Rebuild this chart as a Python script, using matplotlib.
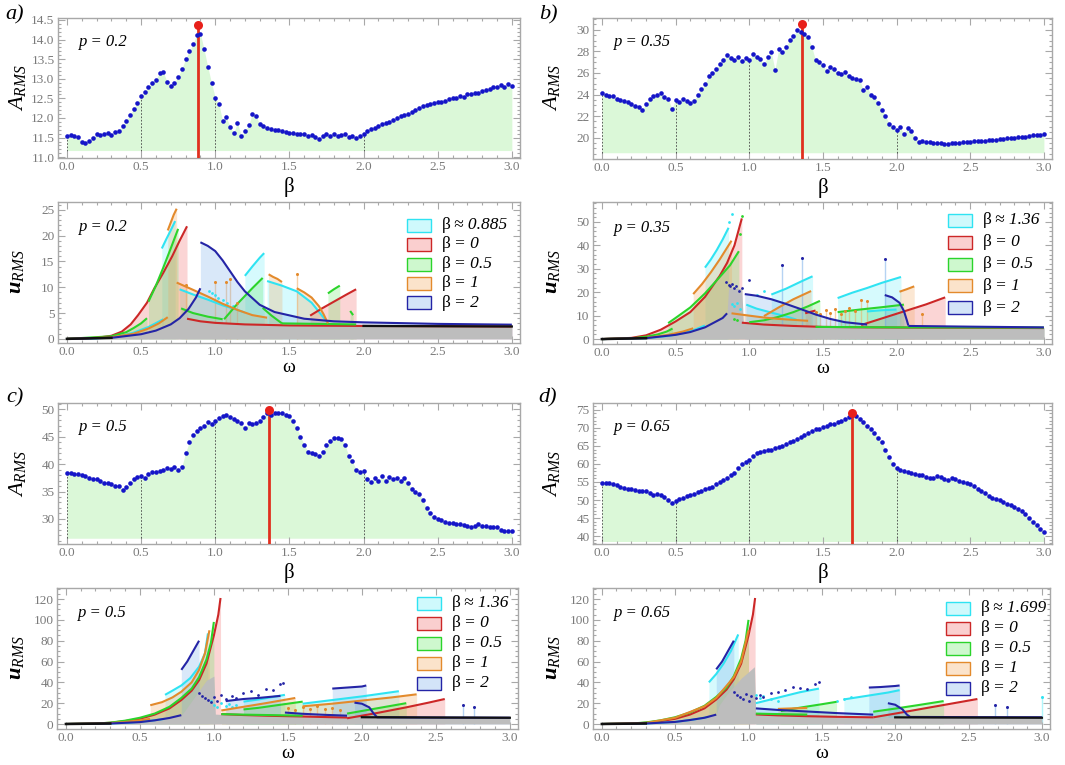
import numpy as np
import matplotlib
matplotlib.use("Agg")
import matplotlib.pyplot as plt
from matplotlib.patches import Rectangle
from matplotlib.ticker import MultipleLocator, FormatStrFormatter

plt.rcParams['font.family'] = ['Liberation Serif', 'DejaVu Serif']
plt.rcParams['mathtext.fontset'] = 'custom'
plt.rcParams['mathtext.rm'] = 'Liberation Serif'
plt.rcParams['mathtext.it'] = 'Liberation Serif:italic'
plt.rcParams['mathtext.bf'] = 'Liberation Serif:bold'
plt.rcParams['mathtext.bfit'] = 'Liberation Serif:italic:bold'

# ---------------------------------------------------------------- data
beta = np.round(np.arange(0, 3.0001, 0.025), 3)

A_p020 = [11.55, 11.56, 11.53, 11.52, 11.38, 11.35, 11.42, 11.50, 11.58, 11.56,
          11.60, 11.63, 11.57, 11.64, 11.68, 11.80, 11.93, 12.08, 12.22, 12.38,
          12.55, 12.66, 12.78, 12.90, 12.98, 13.15, 13.18, 12.92, 12.82, 12.90,
          13.05, 13.25, 13.50, 13.70, 13.88, 14.12, 14.15, 13.75, 13.30, 12.90,
          12.52, 12.35, 11.92, 12.02, 11.78, 11.62, 11.88, 11.55, 11.66, 11.82,
          12.10, 12.05, 11.85, 11.80, 11.74, 11.72, 11.70, 11.70, 11.67, 11.65,
          11.62, 11.63, 11.60, 11.58, 11.58, 11.55, 11.56, 11.52, 11.47, 11.55,
          11.58, 11.54, 11.60, 11.55, 11.56, 11.58, 11.52, 11.55, 11.50, 11.55,
          11.58, 11.66, 11.72, 11.75, 11.80, 11.84, 11.88, 11.90, 11.95, 12.00,
          12.04, 12.08, 12.10, 12.15, 12.20, 12.25, 12.30, 12.32, 12.35, 12.38,
          12.40, 12.42, 12.44, 12.48, 12.50, 12.50, 12.55, 12.54, 12.60, 12.60,
          12.64, 12.65, 12.68, 12.72, 12.75, 12.78, 12.80, 12.85, 12.80, 12.86,
          12.82]

A_p035 = [24.10, 24.00, 23.90, 23.85, 23.55, 23.45, 23.40, 23.30, 23.10, 22.90,
          22.80, 22.60, 23.10, 23.60, 23.90, 24.00, 24.15, 23.80, 23.60, 22.70,
          23.50, 23.30, 23.60, 23.40, 23.20, 23.40, 23.95, 24.50, 25.00, 25.70,
          26.00, 26.40, 26.80, 27.20, 27.70, 27.40, 27.20, 27.45, 27.10, 27.40,
          27.20, 27.75, 27.50, 27.30, 26.80, 27.50, 27.90, 26.30, 28.20, 27.90,
          28.40, 29.10, 29.40, 30.00, 29.80, 29.60, 29.30, 28.40, 27.20, 27.00,
          26.70, 26.20, 26.60, 26.40, 26.00, 25.90, 26.10, 25.70, 25.50, 25.40,
          25.35, 24.40, 24.70, 24.00, 23.80, 23.20, 22.60, 22.00, 21.30, 21.00,
          20.70, 21.00, 20.30, 20.90, 20.60, 20.00, 19.60, 19.70, 19.60, 19.60,
          19.55, 19.55, 19.50, 19.45, 19.45, 19.50, 19.55, 19.55, 19.60, 19.60,
          19.60, 19.65, 19.65, 19.70, 19.70, 19.75, 19.80, 19.80, 19.85, 19.90,
          19.95, 20.00, 20.00, 20.05, 20.10, 20.10, 20.15, 20.20, 20.25, 20.25,
          20.30]

A_p050 = [38.4, 38.3, 38.2, 38.1, 38.0, 37.8, 37.5, 37.3, 37.2, 37.0,
          36.6, 36.5, 36.3, 36.0, 36.0, 35.3, 35.8, 36.5, 37.2, 37.6,
          37.8, 37.5, 38.2, 38.5, 38.6, 38.8, 39.0, 39.2, 39.1, 39.5,
          38.9, 39.5, 42.0, 44.0, 45.2, 46.0, 46.5, 47.0, 47.6, 47.3,
          47.8, 48.3, 48.7, 48.9, 48.5, 48.2, 47.8, 47.5, 46.5, 47.4,
          47.2, 47.5, 47.8, 48.5, 49.2, 49.0, 49.2, 49.2, 49.3, 49.0,
          48.8, 47.8, 46.5, 45.0, 43.5, 42.2, 42.0, 41.8, 41.5, 42.2,
          43.5, 44.2, 44.7, 44.8, 44.5, 43.5, 41.5, 40.5, 39.0, 38.5,
          38.7, 37.3, 36.8, 37.5, 37.0, 37.8, 37.0, 37.6, 37.3, 37.5,
          37.0, 37.5, 36.5, 35.5, 35.0, 34.5, 33.5, 32.0, 31.0, 30.3,
          30.0, 29.8, 29.5, 29.3, 29.2, 29.0, 29.0, 28.9, 28.8, 28.6,
          28.8, 29.0, 28.7, 28.8, 28.6, 28.5, 28.5, 28.0, 27.8, 27.8,
          27.8]

A_p065 = [54.8, 54.7, 54.6, 54.4, 54.2, 53.6, 53.3, 53.0, 53.1, 52.8,
          52.5, 52.6, 52.4, 52.0, 51.5, 51.6, 51.4, 50.8, 50.0, 49.2,
          49.6, 50.2, 50.6, 51.0, 51.5, 51.8, 52.2, 52.6, 53.0, 53.3,
          53.6, 54.3, 55.0, 55.5, 56.0, 56.8, 57.6, 58.8, 60.0, 60.5,
          61.0, 62.2, 63.0, 63.2, 63.5, 63.8, 64.0, 64.3, 64.6, 65.0,
          65.5, 66.0, 66.5, 67.0, 67.6, 68.0, 68.5, 69.0, 69.6, 69.8,
          70.2, 70.5, 71.0, 71.2, 71.5, 72.0, 72.5, 73.0, 73.6, 73.2,
          72.6, 71.6, 70.6, 69.6, 68.5, 67.2, 66.0, 64.0, 62.0, 60.0,
          59.0, 58.4, 58.0, 57.8, 57.5, 57.2, 57.0, 56.8, 56.5, 56.0,
          56.2, 56.6, 56.4, 55.8, 55.5, 56.0, 55.8, 55.2, 55.0, 54.8,
          54.5, 53.8, 53.0, 52.6, 52.0, 51.2, 50.5, 50.2, 50.0, 49.4,
          49.0, 48.5, 48.0, 47.5, 47.0, 46.0, 45.0, 44.0, 43.0, 42.0,
          41.2]

p_values = ['0.2', '0.35', '0.5', '0.65']
beta_opt = [0.885, 1.36, 1.36, 1.699]
A_opt = [14.36, 30.5, 49.8, 74.2]
beta_opt_labels = ['0.885', '1.36', '1.36', '1.699']
legend_values = ['0', '0.5', '1', '2']

# u_RMS(omega) branches for each beta, p = 0.2
a_cyan = [([0, 0.2, 0.35, 0.45, 0.55, 0.65], [0, 0.1, 0.5, 1.2, 2.3, 3.8]),
          ([0.64, 0.67, 0.70, 0.73], [17.5, 19.3, 21.0, 22.8]),
          ([0.76, 0.85, 0.95, 1.05, 1.15, 1.20], [9.6, 8.6, 7.6, 6.5, 5.6, 5.1]),
          ([1.20, 1.25, 1.30, 1.33], [12.2, 14.0, 15.7, 16.6]),
          ([1.35, 1.45, 1.55, 1.65, 1.72, 1.76], [11.2, 10.3, 9.2, 7.0, 4.5, 3.1])]
a_cyan_dots = ([0.96, 0.98, 1.00, 1.02, 1.05, 1.08, 1.12], [9.2, 8.8, 8.5, 8.0, 7.5, 7.0, 6.3])
a_red = [([0, 0.2, 0.3, 0.37, 0.43, 0.48, 0.54, 0.59, 0.65, 0.71, 0.76, 0.81],
          [0, 0.2, 0.6, 1.4, 2.8, 4.6, 7.0, 9.8, 12.8, 16.0, 19.0, 21.8]),
         ([0.81, 0.9, 1.0, 1.2, 1.5, 2.0, 2.5, 3.0], [3.9, 3.4, 3.1, 2.8, 2.6, 2.5, 2.45, 2.4]),
         ([1.64, 1.72, 1.80, 1.88, 1.95], [4.5, 5.9, 7.2, 8.5, 9.6])]
a_green = [([0, 0.3, 0.4, 0.45, 0.5, 0.54], [0, 0.5, 1.3, 2.1, 3.0, 4.0]),
           ([0.55, 0.60, 0.65, 0.70, 0.75], [7.2, 10.3, 13.8, 17.5, 21.3]),
           ([0.77, 0.85, 0.95, 1.05], [5.9, 5.0, 4.3, 3.8]),
           ([1.06, 1.15, 1.25, 1.32], [3.8, 6.8, 9.8, 11.8]),
           ([1.32, 1.38, 1.45], [6.0, 4.5, 3.0]),
           ([1.45, 1.70, 1.95], [3.0, 2.9, 2.8]),
           ([1.76, 1.80, 1.84], [8.8, 9.6, 10.3]),
           ([1.91, 1.93], [5.4, 4.6])]
a_orange = [([0, 0.3, 0.45, 0.55, 0.62, 0.68], [0, 0.3, 1.0, 2.0, 3.0, 4.2]),
            ([0.68, 0.70, 0.72, 0.74], [21.0, 22.5, 24.0, 25.2]),
            ([0.74, 0.85, 0.95, 1.05, 1.15, 1.25, 1.35], [10.9, 9.5, 8.2, 6.8, 5.6, 4.6, 4.1]),
            ([1.36, 1.39, 1.42, 1.45], [12.5, 12.0, 11.6, 11.0]),
            ([1.55, 1.60, 1.65, 1.70, 1.73, 1.76], [9.8, 9.0, 8.0, 6.3, 4.8, 3.0])]
a_orange_spikes = ([0.80, 1.00, 1.07, 1.10, 1.15, 1.55], [10.5, 11.0, 11.0, 11.5, 7.0, 12.5])
a_blue = [([0, 0.3, 0.5, 0.6, 0.7, 0.76, 0.82, 0.87, 0.9], [0, 0.2, 0.9, 1.6, 2.8, 4.0, 5.8, 8.0, 9.8]),
          ([0.9, 0.95, 1.0, 1.05, 1.1, 1.15, 1.2, 1.3, 1.4, 1.6, 1.8, 2.0, 2.5, 3.0],
           [18.7, 18.0, 17.0, 15.2, 13.1, 11.0, 9.2, 6.6, 5.2, 3.9, 3.4, 3.2, 2.9, 2.75])]
a_floor = ([0, 0.3, 0.5, 0.6, 0.7, 0.76, 0.81, 0.82, 0.9, 1.0, 1.2, 1.5, 2.0, 3.0],
           [0, 0.2, 0.9, 1.6, 2.8, 4.0, 5.2, 3.9, 3.4, 3.1, 2.8, 2.6, 2.5, 2.4])

# p = 0.35
b_cyan = [([0, 0.3, 0.45, 0.55, 0.63, 0.70], [0, 0.4, 1.3, 2.5, 4.0, 5.8]),
          ([0.70, 0.74, 0.78, 0.82, 0.86], [30.5, 34.0, 38.0, 42.5, 47.5]),
          ([0.98, 1.05, 1.15, 1.25, 1.32], [14.7, 13.0, 11.3, 9.7, 8.3]),
          ([1.15, 1.25, 1.35, 1.43], [19.0, 21.5, 24.5, 26.8]),
          ([1.60, 1.70, 1.80, 1.90, 2.03], [17.5, 19.8, 21.8, 24.0, 26.5]),
          ([1.80, 1.90, 2.00], [11.8, 12.3, 12.6])]
b_cyan_dots = ([0.86, 0.88, 0.88, 0.90, 0.92, 0.94, 1.05, 1.10], [50.0, 53.5, 15.0, 14.0, 15.5, 13.0, 19.0, 20.5])
b_red = [([0, 0.2, 0.3, 0.4, 0.5, 0.6, 0.7, 0.8, 0.85, 0.9, 0.95],
          [0, 0.5, 1.6, 4.0, 7.5, 11.5, 18.0, 27.0, 32.5, 40.0, 51.5]),
         ([0.95, 1.1, 1.3, 1.5, 1.8, 2.1, 2.5, 3.0], [7.0, 6.2, 5.6, 5.2, 5.0, 4.9, 4.8, 4.7]),
         ([1.38, 1.45], [11.0, 12.2]),
         ([1.76, 1.90, 2.05, 2.20, 2.33], [6.0, 8.8, 11.8, 14.8, 17.8])]
b_green = [([0, 0.2, 0.3, 0.38, 0.44, 0.48], [0, 0.3, 1.0, 2.0, 3.2, 4.5]),
           ([0.45, 0.5, 0.6, 0.7, 0.8, 0.87, 0.93], [6.8, 9.0, 13.5, 19.5, 26.5, 31.5, 37.5]),
           ([1.0, 1.1, 1.2, 1.3, 1.4, 1.48], [7.2, 8.0, 9.5, 11.5, 14.0, 16.3]),
           ([1.60, 1.75, 1.90, 2.05], [11.5, 12.6, 13.6, 14.7]),
           ([1.45, 2.0, 3.0], [5.2, 5.0, 4.9])]
b_green_dots = ([0.94, 0.95, 0.90, 0.92], [45.0, 52.5, 8.5, 8.0])
b_orange = [([0, 0.3, 0.45, 0.55, 0.62], [0, 0.5, 1.8, 3.2, 4.6]),
            ([0.62, 0.68, 0.74, 0.80, 0.86, 0.88], [19.2, 23.5, 28.5, 34.0, 40.0, 42.0]),
            ([0.88, 1.0, 1.1, 1.2, 1.3, 1.4], [11.0, 10.0, 9.2, 8.6, 8.2, 7.8]),
            ([1.10, 1.20, 1.30, 1.42], [9.8, 13.5, 17.0, 20.5]),
            ([2.02, 2.07, 2.12], [20.2, 21.3, 22.5])]
b_orange_spikes = ([1.45, 1.48, 1.52, 1.55, 1.58, 1.62, 1.65, 1.68, 1.72, 1.76, 1.80, 2.17],
                   [11.5, 10.8, 12.5, 11.0, 12.8, 10.5, 12.0, 13.2, 11.8, 16.5, 16.2, 10.5])
b_blue = [([0, 0.3, 0.5, 0.6, 0.7, 0.76, 0.82, 0.85], [0, 0.4, 1.8, 3.0, 5.0, 7.0, 9.0, 11.0]),
          ([0.97, 1.05, 1.15, 1.25, 1.35, 1.45, 1.55, 1.65, 1.8], [19.2, 18.5, 17.0, 15.0, 12.8, 10.5, 8.6, 7.2, 6.2]),
          ([1.92, 1.97, 2.02, 2.05, 2.07, 2.08], [18.8, 17.8, 15.5, 12.0, 8.0, 5.8]),
          ([2.08, 2.5, 3.0], [5.6, 5.3, 5.0])]
b_blue_dots = ([0.84, 0.86, 0.87, 0.88, 0.90, 0.91, 0.93, 0.95, 1.0], [24.5, 23.2, 22.5, 23.5, 21.8, 22.8, 20.5, 22.0, 25.0])
b_blue_spikes = ([1.22, 1.36, 1.92], [31.5, 34.5, 34.0])
b_floor = ([0, 0.3, 0.5, 0.6, 0.7, 0.76, 0.82, 0.85, 0.86, 0.95, 0.96, 1.1, 1.5, 2.0, 3.0],
           [0, 0.4, 1.8, 3.0, 5.0, 7.0, 9.0, 11.0, 22.0, 21.5, 7.0, 6.2, 5.2, 4.9, 4.7])

# p = 0.5
c_cyan = [([0, 0.3, 0.45, 0.55, 0.62, 0.67], [0, 0.5, 1.5, 2.8, 4.0, 5.0]),
          ([0.67, 0.72, 0.78, 0.84, 0.90, 0.94, 0.96], [28.0, 32.0, 37.0, 44.0, 55.0, 68.0, 87.0]),
          ([1.20, 1.30, 1.40, 1.48], [21.5, 23.5, 26.0, 28.0]),
          ([1.60, 1.80, 2.00, 2.10, 2.25], [19.5, 23.0, 26.5, 28.5, 31.5])]
c_cyan_dots = ([0.98, 1.00, 1.02, 1.05, 1.08, 1.10, 1.12, 1.15], [22, 18, 16, 20, 17, 19, 16, 18])
c_red = [([0, 0.2, 0.3, 0.4, 0.5, 0.6, 0.7, 0.78, 0.85, 0.9, 0.95, 1.0, 1.03, 1.045],
          [0, 0.4, 1.2, 2.8, 5.0, 9.0, 15.0, 23.0, 32.0, 42.0, 58.0, 85.0, 105.0, 121.0]),
         ([1.05, 1.2, 1.4, 1.6, 1.8, 1.9], [9.5, 8.6, 7.8, 7.2, 6.5, 6.2]),
         ([1.90, 2.10, 2.30, 2.45, 2.56], [5.5, 10.5, 16.0, 20.5, 24.0])]
c_green = [([0, 0.2, 0.3, 0.4, 0.5, 0.6, 0.7, 0.78, 0.85, 0.9, 0.95, 0.98, 1.0],
            [0, 0.4, 1.3, 3.2, 6.0, 10.0, 16.5, 25.0, 34.0, 45.0, 62.0, 78.0, 98.0]),
           ([1.05, 1.2, 1.4, 1.6], [9.5, 9.0, 8.5, 8.0]),
           ([1.2, 1.3, 1.4, 1.5, 1.6], [14.0, 15.5, 17.5, 19.5, 21.5]),
           ([1.9, 2.0, 2.1, 2.2, 2.3], [10.0, 12.5, 15.0, 17.5, 20.0])]
c_orange = [([0, 0.3, 0.4, 0.5, 0.57], [0, 0.8, 2.0, 3.5, 5.0]),
            ([0.57, 0.65, 0.72, 0.78, 0.85, 0.90, 0.94, 0.97], [18.0, 21.0, 25.5, 31.0, 40.0, 52.0, 68.0, 90.0]),
            ([1.05, 1.20, 1.35, 1.45, 1.55], [13.0, 16.5, 20.0, 22.5, 25.0]),
            ([1.60, 1.80, 2.00, 2.20, 2.37], [17.0, 19.5, 22.5, 25.5, 28.5])]
c_orange_spikes = ([1.50, 1.55, 1.60, 1.65, 1.70, 1.75, 1.80, 1.85], [15, 13, 16, 14, 17, 14, 15, 13])
c_blue = [([0, 0.3, 0.5, 0.6, 0.7, 0.78], [0, 0.5, 1.8, 3.5, 5.8, 8.5]),
          ([0.78, 0.82, 0.86, 0.90], [52.0, 60.0, 70.0, 80.0]),
          ([1.08, 1.20, 1.30, 1.45], [22.0, 24.0, 25.0, 27.0]),
          ([1.48, 1.60, 1.75, 1.90], [11.0, 9.8, 8.8, 8.0]),
          ([1.80, 1.90, 2.00, 2.03], [34.0, 35.0, 36.0, 37.0]),
          ([1.95, 2.00, 2.05, 2.08, 2.10], [20.5, 19.5, 16.0, 10.0, 7.0]),
          ([2.10, 2.50, 3.00], [6.5, 6.2, 6.0])]
c_blue_dots = ([0.90, 0.92, 0.94, 0.96, 0.98, 1.00, 1.02, 1.05, 1.08, 1.12, 1.15, 1.20, 1.25, 1.30, 1.35, 1.40, 1.45, 1.47],
               [30, 27, 25, 23, 21, 26, 22, 28, 24, 27, 25, 30, 32, 28, 34, 33, 38, 39])
c_blue_spikes = ([2.68, 2.76], [18.0, 16.5])
c_floor = ([0, 0.3, 0.5, 0.6, 0.7, 0.78, 0.8, 0.85, 0.9, 0.95, 1.0, 1.01, 1.1, 1.5, 2.0, 3.0],
           [0, 0.5, 1.8, 3.5, 5.8, 8.5, 12, 22, 32, 42, 46, 9.5, 8.8, 7.5, 6.5, 6.0])

# p = 0.65
d_cyan = [([0, 0.3, 0.5, 0.6, 0.68, 0.73], [0, 0.5, 2.0, 3.8, 5.5, 7.0]),
          ([0.73, 0.78, 0.83, 0.88, 0.93], [40.0, 48.0, 58.0, 70.0, 86.0]),
          ([1.05, 1.15, 1.25, 1.35, 1.48], [20.0, 23.5, 27.0, 30.5, 34.0]),
          ([1.65, 1.75, 1.85, 1.95, 2.03], [23.6, 25.8, 28.0, 30.2, 32.5])]
d_cyan_dots = ([1.05, 1.08, 1.10, 1.15, 1.20, 1.60, 1.65, 1.70], [28, 25, 27, 24, 22, 22, 24, 26])
d_cyan_spikes = ([3.0], [26.0])
d_red = [([0, 0.2, 0.3, 0.4, 0.5, 0.6, 0.7, 0.78, 0.85, 0.9, 0.95, 1.0, 1.03, 1.045],
          [0, 0.4, 1.2, 2.8, 5.0, 9.0, 15.0, 23.5, 33.0, 43.0, 58.0, 85.0, 105.0, 121.0]),
         ([1.05, 1.2, 1.4, 1.6, 1.85], [9.2, 8.3, 7.5, 6.9, 6.4]),
         ([1.85, 2.0, 2.2, 2.4, 2.56], [6.4, 10.0, 15.0, 20.0, 24.0])]
d_green = [([0, 0.2, 0.3, 0.4, 0.5, 0.6, 0.7, 0.78, 0.85, 0.9, 0.95, 0.98, 1.0],
            [0, 0.4, 1.5, 3.5, 6.5, 11.0, 17.5, 26.0, 35.0, 46.0, 63.0, 80.0, 100.0]),
           ([1.05, 1.2, 1.4], [10.0, 9.5, 9.0]),
           ([1.22, 1.3, 1.4, 1.5, 1.6], [12.4, 14.5, 16.8, 19.0, 21.3]),
           ([1.85, 2.0, 2.15, 2.33], [11.8, 14.8, 18.0, 22.0])]
d_orange = [([0, 0.3, 0.5, 0.7, 0.78, 0.9, 0.95, 1.0], [0, 1.0, 6.0, 17.0, 25.0, 45.0, 60.0, 90.0]),
            ([1.2, 1.3, 1.4], [14.5, 15.0, 15.5])]
d_blue = [([0, 0.3, 0.5, 0.6, 0.7, 0.78], [0, 0.5, 2.0, 3.8, 6.0, 9.0]),
          ([0.78, 0.82, 0.86, 0.90], [52.5, 60.0, 70.0, 80.0]),
          ([1.05, 1.2, 1.4, 1.6, 1.85], [15.0, 13.5, 12.0, 10.5, 9.0]),
          ([1.82, 1.90, 2.00, 2.03], [35.0, 35.5, 36.5, 37.0]),
          ([1.95, 2.00, 2.05, 2.08, 2.10], [20.0, 18.5, 14.0, 9.0, 7.0]),
          ([2.10, 2.50, 3.00], [6.8, 6.6, 6.5])]
d_blue_dots = ([0.90, 0.92, 0.94, 0.96, 0.98, 1.00, 1.02, 1.05, 1.08, 1.10, 1.15, 1.20, 1.25, 1.30, 1.35, 1.40, 1.45, 1.48],
               [31, 28, 26, 24, 29, 22, 27, 25, 28, 26, 30, 31, 33, 36, 35, 34, 38, 40])
d_blue_spikes = ([2.68, 2.76], [18.0, 16.5])
d_floor = ([0, 0.3, 0.5, 0.6, 0.7, 0.78, 0.8, 0.85, 0.9, 0.95, 1.0, 1.04, 1.05, 1.2, 1.6, 2.0, 3.0],
           [0, 0.5, 2.0, 3.8, 6.0, 9.0, 18, 28, 36, 44, 50, 55, 9.0, 8.3, 6.9, 6.4, 6.0])

# ---------------------------------------------------------------- style
COL = {'cyan': '#2fe3f2', 'red': '#cc2727', 'green': '#2bd42b',
       'orange': '#e38a2c', 'blue': '#2424a6'}
FILL = {'cyan': '#62eef8', 'red': '#f06060', 'green': '#5ee85e',
        'orange': '#f2a455', 'blue': '#6fa8e8'}
ORDER = ['cyan', 'red', 'green', 'orange', 'blue']
DOT = '#1515c8'
GREEN_BG = '#dbf8d8'
FRAME = '#a8a8a8'
TICKLAB = '#7a7a7a'

W, H = 1065, 765
fig = plt.figure(figsize=(W / 100, H / 100), dpi=100)


def box(l, t, r, b):
    return [l / W, 1 - b / H, (r - l) / W, (b - t) / H]


def style_axes(ax, ymaj, ymin, yfmt, ylim):
    ax.set_xlim(-0.06, 3.055)
    ax.set_ylim(*ylim)
    ax.xaxis.set_major_locator(MultipleLocator(0.5))
    ax.xaxis.set_minor_locator(MultipleLocator(0.1))
    ax.yaxis.set_major_locator(MultipleLocator(ymaj))
    ax.yaxis.set_minor_locator(MultipleLocator(ymin))
    ax.xaxis.set_major_formatter(FormatStrFormatter('%.1f'))
    ax.yaxis.set_major_formatter(FormatStrFormatter(yfmt))
    ax.tick_params(which='both', direction='in', top=True, right=True,
                   color=FRAME, labelcolor=TICKLAB, labelsize=9.5, width=0.8)
    ax.tick_params(which='major', length=5, pad=2.5)
    ax.tick_params(which='minor', length=2.5)
    for s in ax.spines.values():
        s.set_color(FRAME)
        s.set_linewidth(1.0)


def top_panel(pos, A, k, ylim, base, ymaj, ymin, yfmt):
    ax = fig.add_axes(box(*pos))
    A = np.asarray(A)
    ax.fill_between(beta, base, A, color=GREEN_BG, lw=0, zorder=1)
    for b0 in (0.0, 0.5, 1.0, 2.0):
        i = int(np.argmin(np.abs(beta - b0)))
        ax.plot([b0, b0], [base, A[i]], ls=(0, (2, 2)), color='#444444', lw=0.6, zorder=2)
    ax.plot([beta_opt[k]] * 2, [ylim[0], A_opt[k]], color='#e0301e', lw=2.0, zorder=3)
    ax.plot(beta, A, 'o', ms=3.3, mew=0, color=DOT, zorder=4)
    ax.plot(beta_opt[k], A_opt[k], 'o', ms=6.5, mew=0, color='#e8201a', zorder=5, clip_on=False)
    style_axes(ax, ymaj, ymin, yfmt, ylim)
    ax.text(0.045, 0.83, f'p = {p_values[k]}', transform=ax.transAxes, fontsize=12,
            style='italic', ha='left', va='center')
    ax.text(0.5, -0.205, 'β', transform=ax.transAxes, fontsize=15, ha='center', va='center')
    return ax


def draw_key(ax, pos, k, right_off, top_off, step):
    # legend built from patches and text placed in pixel offsets from the frame corner
    l, t, r, b = pos
    wpx, hpx = r - l, b - t
    labels = ['≈ ' + beta_opt_labels[k]] + ['= ' + v for v in legend_values]
    for j, (name, lab) in enumerate(zip(ORDER, labels)):
        xc = (wpx - right_off) / wpx
        yc = 1 - (top_off + j * step) / hpx
        ax.add_patch(Rectangle((xc, yc - 6.5 / hpx), 24 / wpx, 13 / hpx, transform=ax.transAxes,
                               facecolor=matplotlib.colors.to_rgba(FILL[name], 0.3),
                               edgecolor=COL[name], lw=1.0, zorder=6, clip_on=False))
        ax.text(xc + 35 / wpx, yc, 'β', transform=ax.transAxes, fontsize=12.5,
                ha='left', va='center', zorder=6)
        ax.text(xc + 47 / wpx, yc, lab, transform=ax.transAxes, fontsize=12.5,
                style='italic', ha='left', va='center', zorder=6)


def bottom_panel(pos, k, series, floor, ylim, ymaj, ymin, tail, key):
    ax = fig.add_axes(box(*pos))
    for name in ORDER:
        segs, dots, spikes = series[name]
        for w, u in segs:
            ax.fill_between(w, 0, u, color=FILL[name], alpha=0.26, lw=0, zorder=1)
        if spikes is not None:
            ax.vlines(spikes[0], 0, spikes[1], color=FILL[name], alpha=0.5, lw=1.0, zorder=1)
    fw, fu = np.asarray(floor[0]), np.asarray(floor[1])
    ax.fill_between(fw, 0, fu, color='#bdbdbd', lw=0, zorder=2)
    for name in ORDER:
        segs, dots, spikes = series[name]
        for w, u in segs:
            ax.plot(w, u, color=COL[name], lw=1.5, zorder=3, solid_capstyle='butt')
        if dots is not None:
            ax.plot(dots[0], dots[1], 'o', ms=2.0, mew=0, color=COL[name], zorder=3)
        if spikes is not None:
            ax.plot(spikes[0], spikes[1], 'o', ms=2.2, mew=0, color=COL[name], zorder=3)
    m1 = fw <= 0.3
    m2 = fw >= tail
    ax.plot(fw[m1], fu[m1], color='#111111', lw=1.8, zorder=4)
    ax.plot(fw[m2], fu[m2], color='#111111', lw=1.6, zorder=4)
    style_axes(ax, ymaj, ymin, '%d', ylim)
    ax.text(0.045, 0.82, f'p = {p_values[k]}', transform=ax.transAxes, fontsize=12,
            style='italic', ha='left', va='center')
    ax.text(0.5, -0.175, 'ω', transform=ax.transAxes, fontsize=14, ha='center', va='center')
    draw_key(ax, pos, k, *key)
    return ax


def pack(cy, rd, gr, og, bl):
    return {'cyan': cy, 'red': rd, 'green': gr, 'orange': og, 'blue': bl}


# top panels
top_panel((58, 18, 520, 158), A_p020, 0, (10.98, 14.55), 11.17, 0.5, 0.1, '%.1f')
top_panel((593, 18, 1052, 159), A_p035, 1, (18.02, 31.1), 18.6, 2, 0.5, '%d')
top_panel((58, 403, 520, 544), A_p050, 2, (25.45, 51.1), 26.5, 5, 1, '%d')
top_panel((593, 403, 1052, 544), A_p065, 3, (37.8, 76.9), 38.5, 5, 1, '%d')

# bottom panels
bottom_panel((58, 202, 520, 343), 0,
             pack((a_cyan, a_cyan_dots, None), (a_red, None, None), (a_green, None, None),
                  (a_orange, None, a_orange_spikes), (a_blue, None, None)),
             a_floor, (-0.8, 26.5), 5, 1, 1.8, (113, 23, 19.5))
bottom_panel((593, 202, 1052, 344), 1,
             pack((b_cyan, b_cyan_dots, None), (b_red, None, None), (b_green, b_green_dots, None),
                  (b_orange, None, b_orange_spikes), (b_blue, b_blue_dots, b_blue_spikes)),
             b_floor, (-2.1, 58.5), 10, 2, 2.1, (104, 18, 22))
bottom_panel((57, 588, 518, 729), 2,
             pack((c_cyan, c_cyan_dots, None), (c_red, None, None), (c_green, None, None),
                  (c_orange, None, c_orange_spikes), (c_blue, c_blue_dots, c_blue_spikes)),
             c_floor, (-4.8, 130.6), 20, 5, 2.0, (101, 15, 20))
bottom_panel((593, 588, 1050, 729), 3,
             pack((d_cyan, d_cyan_dots, d_cyan_spikes), (d_red, None, None), (d_green, None, None),
                  (d_orange, None, None), (d_blue, d_blue_dots, d_blue_spikes)),
             d_floor, (-4.8, 130.6), 20, 5, 2.0, (104, 20, 20))

# axis titles and panel letters
for x, yc in ((17, 88), (552, 88), (17, 474), (552, 474)):
    fig.text(x / W, 1 - yc / H, r'$A_{RMS}$', fontsize=16, rotation=90,
             ha='center', va='center')
for x, yc in ((17, 272), (552, 272), (17, 658), (552, 658)):
    fig.text(x / W, 1 - yc / H, r'$\mathbfit{u}_{RMS}$', fontsize=16, rotation=90,
             ha='center', va='center')
for s, x, yc in (('a)', 15, 15), ('b)', 548, 15), ('c)', 15, 398), ('d)', 548, 398)):
    fig.text(x / W, 1 - yc / H, s, fontsize=16, style='italic', ha='center', va='center')

fig.savefig('out.png', dpi=100)
